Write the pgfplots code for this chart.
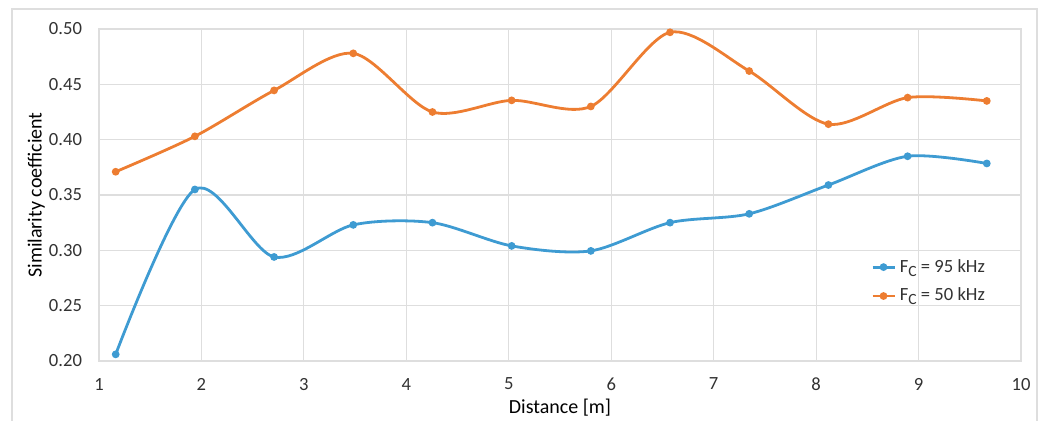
\documentclass[border=0pt]{standalone}
\usepackage{pgfplots}
\pgfplotsset{compat=1.18}
\usepackage{fontspec}
\setmainfont{Carlito}
\definecolor{sblue}{RGB}{62,155,210}
\definecolor{sorange}{RGB}{237,125,49}
\definecolor{gridc}{RGB}{222,222,222}
\definecolor{txt}{RGB}{50,50,50}
\begin{document}
\begin{tikzpicture}
\useasboundingbox (-49.5pt,-30pt) rectangle (475pt,180.5pt);
\draw[gridc, line width=0.6pt] (-43.5pt,-31pt) -- (-43.5pt,176pt) -- (469pt,176pt) -- (469pt,-31pt);
\begin{axis}[
  at={(0pt,0pt)}, anchor=south west,
  scale only axis, width=461pt, height=166pt,
  xmin=1, xmax=10, ymin=0.2, ymax=0.5,
  xtick={1,2,...,10},
  ytick={0.20,0.25,0.30,0.35,0.40,0.45,0.50},
  yticklabel style={/pgf/number format/fixed, /pgf/number format/fixed zerofill, /pgf/number format/precision=2},
  /pgf/number format/assume math mode=true,
  grid=major,
  major grid style={gridc, line width=0.6pt},
  axis line style={gridc, line width=0.6pt},
  major tick length=0pt,
  tick label style={font=\fontsize{9.3}{10}\selectfont, text=txt},
  xticklabel style={yshift=-5pt},
  yticklabel style={xshift=-5pt},
  xlabel={Distance [m]},
  ylabel={Similarity coefficient},
  label style={font=\fontsize{9.3}{10}\selectfont, text=txt},
  every axis x label/.style={at={(axis description cs:0.5,0)}, anchor=center, yshift=-23.5pt},
  every axis y label/.style={at={(axis description cs:-0.068,0.5)}, anchor=center, rotate=90},
  legend style={at={(rel axis cs:0.837,0.32)}, anchor=north west, draw=none, fill=none,
    font=\fontsize{9.3}{10}\selectfont, text=txt, row sep=2.5pt, inner sep=0pt},
  legend cell align=left,
  legend image code/.code={\draw[#1, mark repeat=2, mark phase=2] plot coordinates {(0pt,0pt) (5.5pt,0pt) (11pt,0pt)};},
]
\addplot[sblue, line width=1.4pt, smooth, tension=0.5, mark=*, mark size=1.2pt] coordinates {
(1.163,0.206) (1.936,0.355) (2.709,0.294) (3.482,0.323) (4.255,0.325) (5.028,0.304)
(5.801,0.2995) (6.574,0.325) (7.347,0.333) (8.120,0.359) (8.893,0.385) (9.666,0.3785)};
\addlegendentry{F\raisebox{-0.45ex}{\fontsize{7.8}{8}\selectfont C} = 95 kHz}
\addplot[sorange, line width=1.4pt, smooth, tension=0.5, mark=*, mark size=1.2pt] coordinates {
(1.163,0.371) (1.936,0.403) (2.709,0.4445) (3.482,0.478) (4.255,0.425) (5.028,0.4355)
(5.801,0.430) (6.574,0.497) (7.347,0.462) (8.120,0.414) (8.893,0.438) (9.666,0.435)};
\addlegendentry{F\raisebox{-0.45ex}{\fontsize{7.8}{8}\selectfont C} = 50 kHz}
\end{axis}
\end{tikzpicture}
\end{document}
